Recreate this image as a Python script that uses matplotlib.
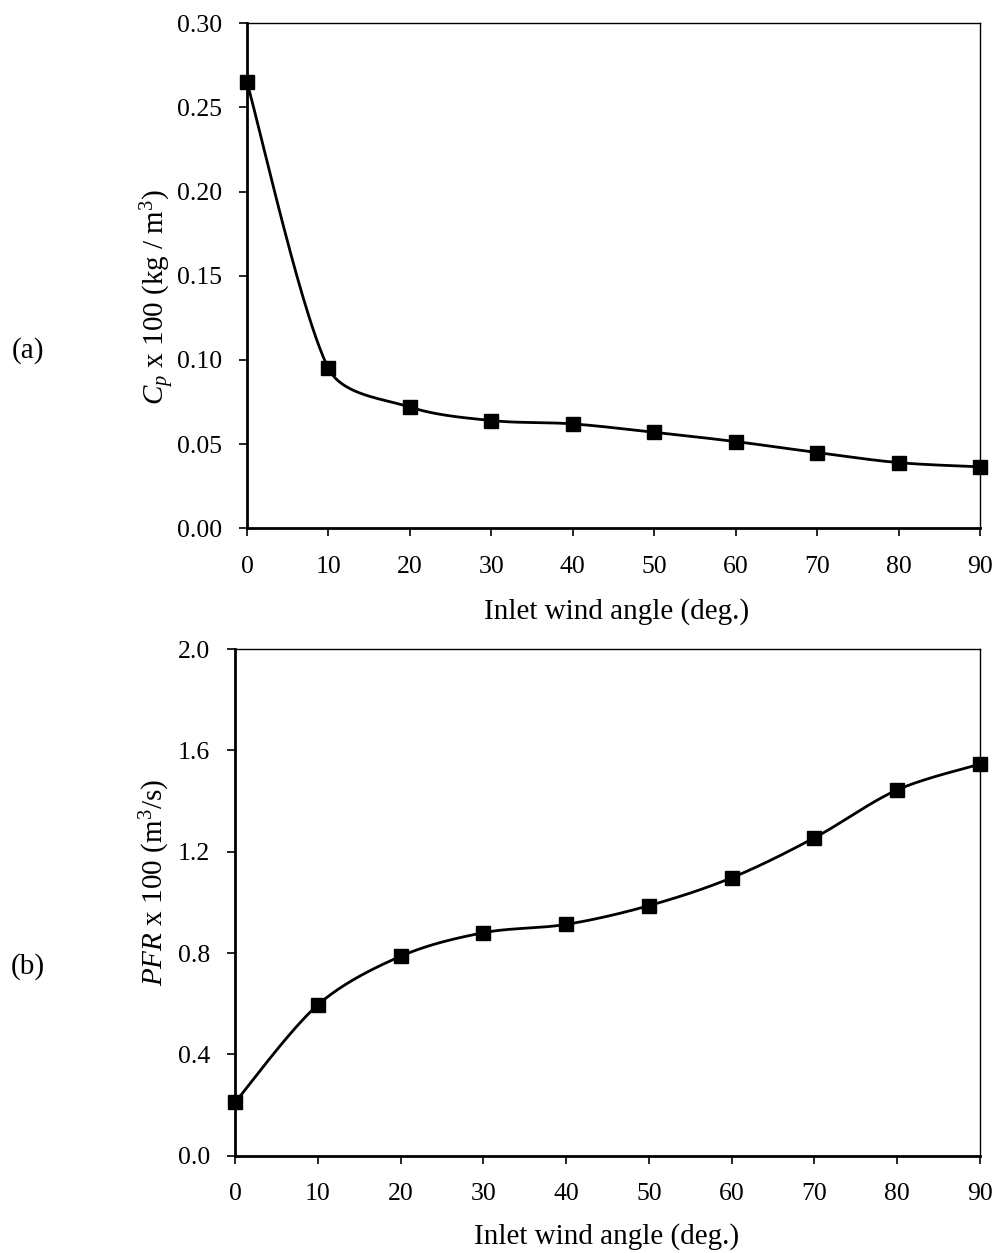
import numpy as np
import matplotlib
matplotlib.use("Agg")
import matplotlib.pyplot as plt

angles = [0, 10, 20, 30, 40, 50, 60, 70, 80, 90]
cp_values = [0.265, 0.095, 0.072, 0.064, 0.062, 0.057, 0.0515, 0.045, 0.039, 0.0365]
pfr_values = [0.21, 0.595, 0.787, 0.880, 0.913, 0.987, 1.097, 1.255, 1.444, 1.546]
x_ticks = [0, 10, 20, 30, 40, 50, 60, 70, 80, 90]
cp_ticks = [0.00, 0.05, 0.10, 0.15, 0.20, 0.25, 0.30]
pfr_ticks = [0.0, 0.4, 0.8, 1.2, 1.6, 2.0]

plt.rcParams['font.family'] = ['Liberation Serif', 'DejaVu Serif']
plt.rcParams['mathtext.fontset'] = 'custom'
plt.rcParams['mathtext.rm'] = 'Liberation Serif'
plt.rcParams['mathtext.it'] = 'Liberation Serif:italic'


def smooth(ax, x, y, n=50):
    """Excel-like smoothed line (Bezier through points) computed in display space."""
    pts = ax.transData.transform(np.column_stack([x, y]))
    P = np.vstack([pts[0], pts, pts[-1]])
    out = []
    for i in range(1, len(P) - 2):
        p0, p1, p2, p3 = P[i - 1], P[i], P[i + 1], P[i + 2]
        seg = np.linalg.norm(p2 - p1)
        t1 = (p2 - p0) / 6.0
        t2 = (p3 - p1) / 6.0
        lim = seg / 3.0
        n1, n2 = np.linalg.norm(t1), np.linalg.norm(t2)
        if n1 > lim:
            t1 = t1 * lim / n1
        if n2 > lim:
            t2 = t2 * lim / n2
        c1 = p1 + t1
        c2 = p2 - t2
        t = np.linspace(0, 1, n)[:, None]
        b = ((1 - t) ** 3) * p1 + 3 * ((1 - t) ** 2) * t * c1 + 3 * (1 - t) * t ** 2 * c2 + t ** 3 * p2
        out.append(b if i == 1 else b[1:])
    out = np.vstack(out)
    d = ax.transData.inverted().transform(out)
    return d[:, 0], d[:, 1]


fig = plt.figure(figsize=(9.97, 12.53), dpi=100)
ax1 = fig.add_axes([0.2477, 0.5784, 0.983 - 0.2477, 0.9814 - 0.5784])
ax2 = fig.add_axes([0.2357, 0.0777, 0.983 - 0.2357, 0.482 - 0.0777])

fs = 18.5
lfs = 21
H = 1253.0
W = 997.0
panels = [
    (ax1, cp_values, cp_ticks, 0.30, "{:.2f}", r"$C_p$ x 100 (kg / m$^3$)", (158, 297), (617, 612)),
    (ax2, pfr_values, pfr_ticks, 2.0, "{:.1f}", r"$PFR$ x 100 (m$^3$/s)", (155, 882), (607, 1237)),
]
for ax, yv, yt, ymax, fmt, ylab, ypos, xpos in panels:
    ax.set_xlim(0, 90)
    ax.set_ylim(0, ymax)
    ax.set_xticks(x_ticks)
    ax.set_xticklabels([str(v) for v in x_ticks], fontsize=fs)
    ax.set_yticks(yt)
    ax.set_yticklabels([fmt.format(v) for v in yt], fontsize=fs)
    ax.tick_params(direction='out', length=6, width=1.2, colors='black')
    ax.tick_params(axis='x', pad=14)
    ax.tick_params(axis='y', pad=12)
    ax.spines['left'].set_linewidth(2.0)
    ax.spines['bottom'].set_linewidth(2.0)
    ax.spines['top'].set_linewidth(1.0)
    ax.spines['right'].set_linewidth(1.0)
    for s in ax.spines.values():
        s.set_zorder(1)
    fig.canvas.draw()
    sx, sy = smooth(ax, angles, yv)
    ax.plot(sx, sy, color='black', lw=2.0, clip_on=False, zorder=3)
    ax.plot(angles, yv, linestyle='none', marker='s', markersize=10,
            color='black', clip_on=False, zorder=4)
    fig.text(ypos[0] / W, 1 - ypos[1] / H, ylab, fontsize=lfs, rotation=90,
             ha='center', va='center')
    fig.text(xpos[0] / W, 1 - xpos[1] / H, "Inlet wind angle (deg.)", fontsize=lfs,
             ha='center', va='center')

fig.text(28 / W, 1 - 351 / H, "(a)", fontsize=lfs, ha='center', va='center')
fig.text(28 / W, 1 - 967 / H, "(b)", fontsize=lfs, ha='center', va='center')

fig.savefig("out.png", dpi=100)
